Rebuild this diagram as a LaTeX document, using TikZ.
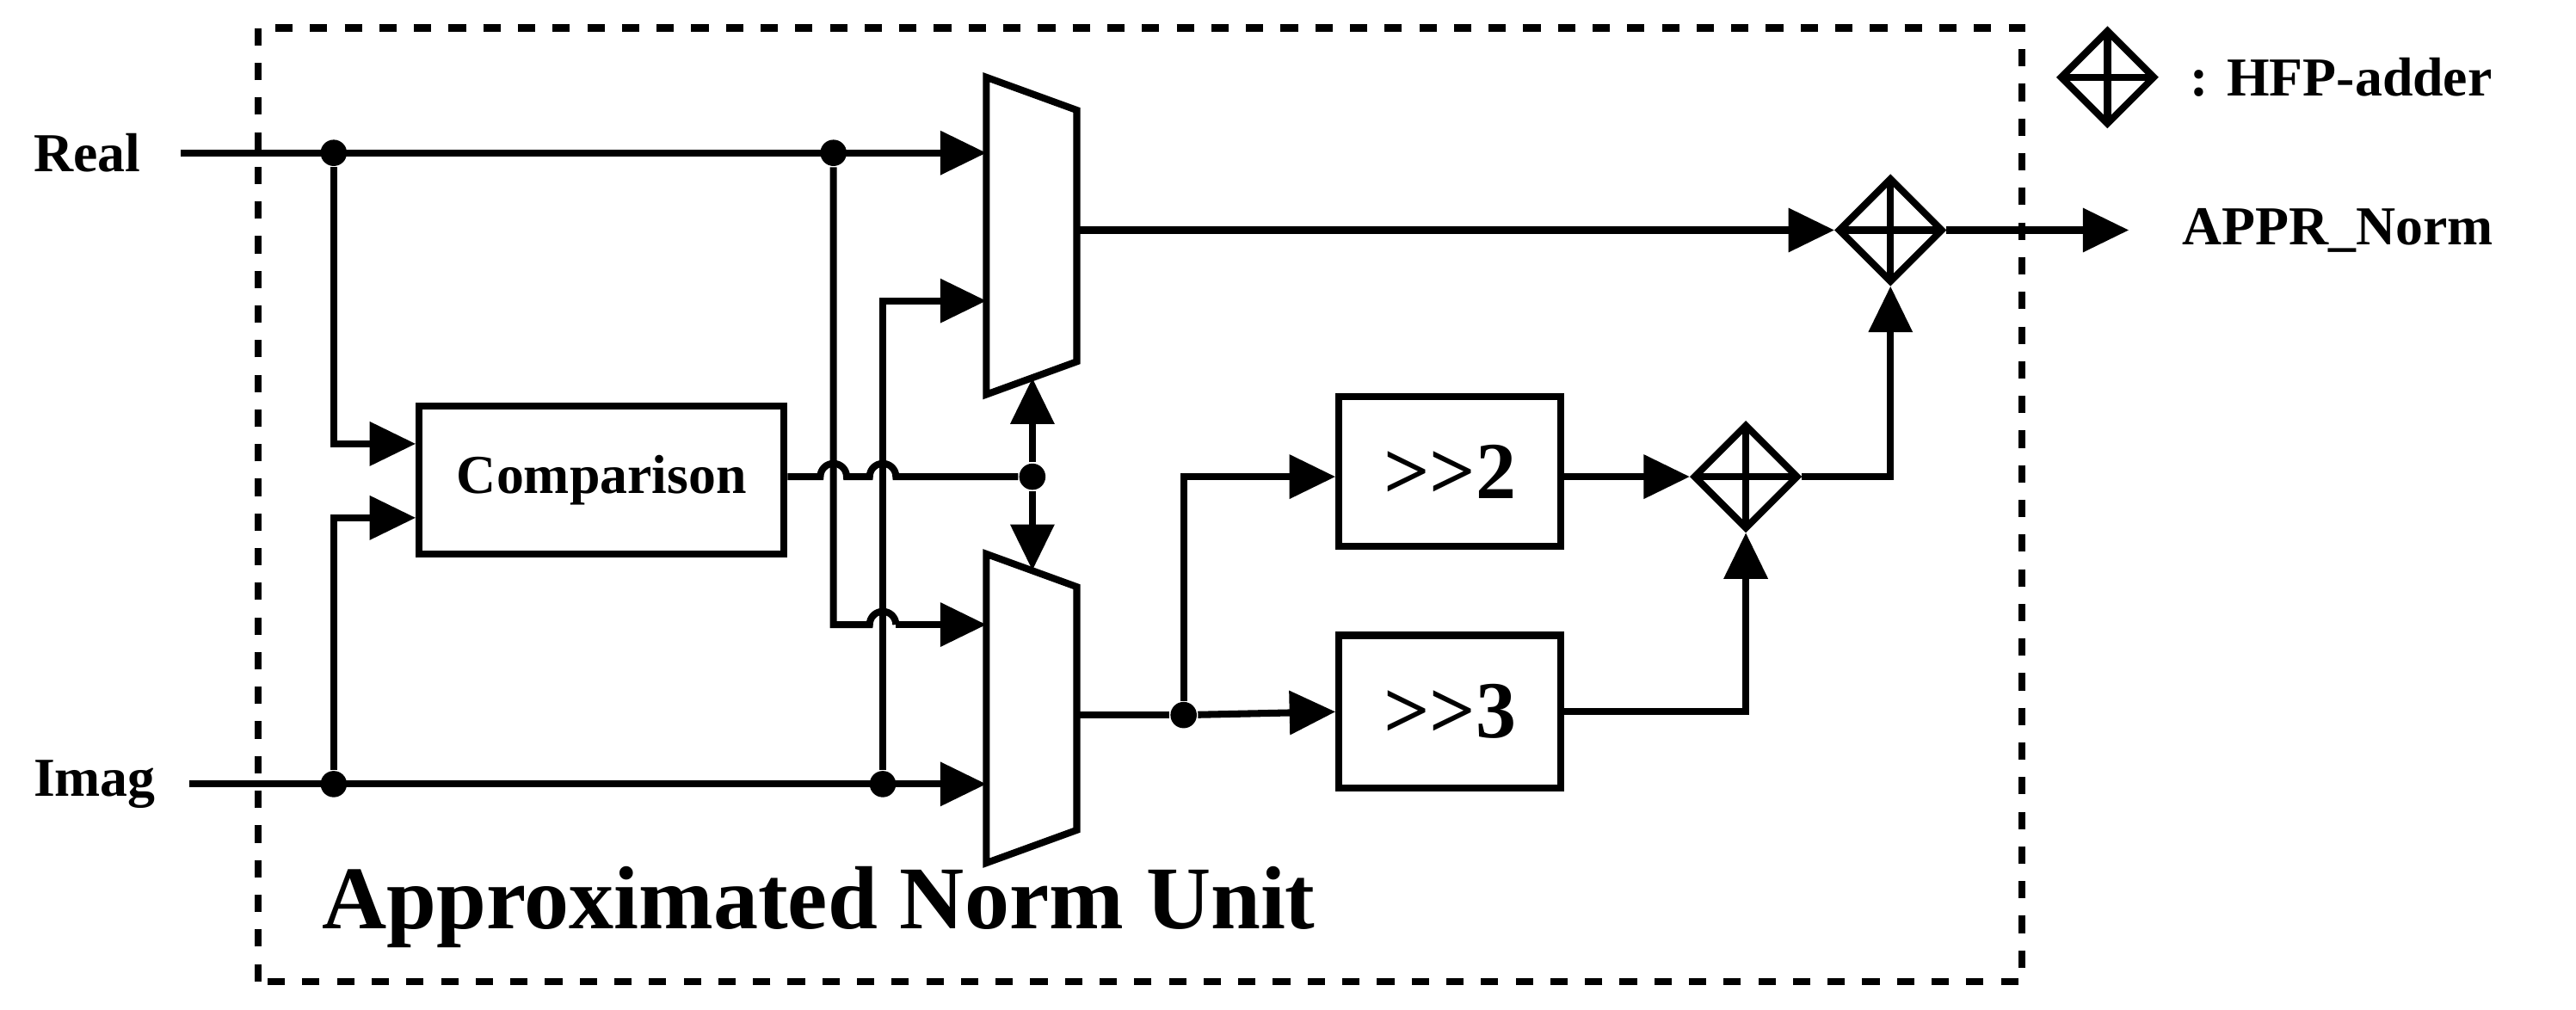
\documentclass[tikz,border=0pt]{standalone}
\usepackage{fontspec}
\setmainfont{Liberation Serif}
\usetikzlibrary{positioning,shapes.geometric,arrows.meta}
\tikzset{
  % wires and blocks
  wire/.style = {line width=1.2pt},
  sig/.style = {wire, -{Triangle[length=0.28cm,width=0.26cm]}},
  block/.style = {
    rectangle,
    draw=black,
    line width=1.2pt,
    text centered,
    font=\bfseries
  },
  adder/.style = {
    diamond,
    draw=black,
    line width=1.2pt,
    minimum size=0.64cm,
    inner sep=0pt,
    path picture={
      \draw[line width=1.2pt] (path picture bounding box.north) -- (path picture bounding box.south);
      \draw[line width=1.2pt] (path picture bounding box.west) -- (path picture bounding box.east);
    }
  },
  joint/.style = {circle, fill=black, inner sep=0pt, minimum size=0.16cm},
  lbl/.style = {font=\bfseries\fontsize{9.5}{11}\selectfont}
}
\begin{document}
\begin{tikzpicture}
  \useasboundingbox (0,0) rectangle (15.67,6.14);
  % unit frame
  \draw[wire, dash pattern=on 3pt off 3pt] (1.57,0.17) rectangle (12.30,5.97);
  \node[font=\bfseries\fontsize{15.5}{18}\selectfont] (title) at (4.98,0.62) {Approximated Norm Unit};
  % inputs
  \node[lbl, anchor=west] (real) at (0.08,5.21) {Real};
  \node[lbl, anchor=west] (imag) at (0.08,1.37) {Imag};
  \coordinate (realin) at (1.10,5.21);
  \coordinate (imagin) at (1.15,1.37);
  % multiplexers
  \draw[wire] (6.00,5.67) -- (6.55,5.47) -- (6.55,3.94) -- (6.00,3.74) -- cycle;
  \draw[wire] (6.00,2.77) -- (6.55,2.57) -- (6.55,1.09) -- (6.00,0.89) -- cycle;
  \coordinate (mux1a) at (6.00,5.21);
  \coordinate (mux1b) at (6.00,4.31);
  \coordinate (mux1s) at (6.28,3.84);
  \coordinate (mux1o) at (6.55,4.74);
  \coordinate (mux2a) at (6.00,2.34);
  \coordinate (mux2b) at (6.00,1.37);
  \coordinate (mux2s) at (6.28,2.67);
  \coordinate (mux2o) at (6.55,1.79);
  % blocks
  \node[block, minimum width=2.22cm, minimum height=0.9cm, font=\bfseries\fontsize{9.5}{11}\selectfont] (cmp) at (3.66,3.22) {Comparison};
  \node[block, minimum width=1.35cm, minimum height=0.91cm, font=\bfseries\fontsize{14}{16}\selectfont] (sh2) at (8.82,3.27) {>{}>2};
  \node[block, minimum width=1.35cm, minimum height=0.93cm, font=\bfseries\fontsize{14}{16}\selectfont] (sh3) at (8.82,1.81) {>{}>3};
  \node[adder] (add2) at (10.62,3.24) {};
  \node[adder] (add1) at (11.50,4.74) {};
  \coordinate (out) at (12.95,4.74);
  \node[lbl, anchor=west] (norm) at (13.15,4.74) {APPR\_Norm};
  % legend
  \node[adder, minimum size=0.58cm] (key) at (12.82,5.67) {};
  \node[lbl, anchor=west] (keytxt) at (13.20,5.67) {: HFP-adder};
  % joints
  \node[joint] (jr1) at (2.03,5.21) {};
  \node[joint] (jr2) at (5.07,5.21) {};
  \node[joint] (ji1) at (2.03,1.37) {};
  \node[joint] (ji2) at (5.37,1.37) {};
  \node[joint] (jsel) at (6.28,3.24) {};
  \node[joint] (jsh) at (7.20,1.79) {};
  % connections
  \draw[sig] (realin) -- (mux1a);
  \draw[sig] (imagin) -- (mux2b);
  \draw[sig] (jr1) |- (cmp.west |- 0,3.44);
  \draw[sig] (ji1) |- (cmp.west |- 0,2.99);
  \draw[wire] (cmp.east |- jsel) -- (4.99,3.24) arc (180:0:0.08) -- (5.29,3.24) arc (180:0:0.08) -- (jsel);
  \draw[sig] (jsel) -- (mux1s);
  \draw[sig] (jsel) -- (mux2s);
  \draw[wire] (jr2) -- (5.07,2.34) -- (5.29,2.34) arc (180:0:0.08);
  \draw[sig] (5.45,2.34) -- (mux2a);
  \draw[sig] (ji2) |- (mux1b);
  \draw[sig] (mux1o) -- (add1.west);
  \draw[wire] (mux2o) -- (jsh);
  \draw[sig] (jsh) -- (sh3.west);
  \draw[sig] (jsh) |- (sh2.west |- jsel);
  \draw[sig] (sh2.east |- add2) -- (add2.west);
  \draw[sig] (sh3.east) -| (add2.south);
  \draw[sig] (add2.east) -| (add1.south);
  \draw[sig] (add1.east) -- (out);
\end{tikzpicture}
\end{document}
